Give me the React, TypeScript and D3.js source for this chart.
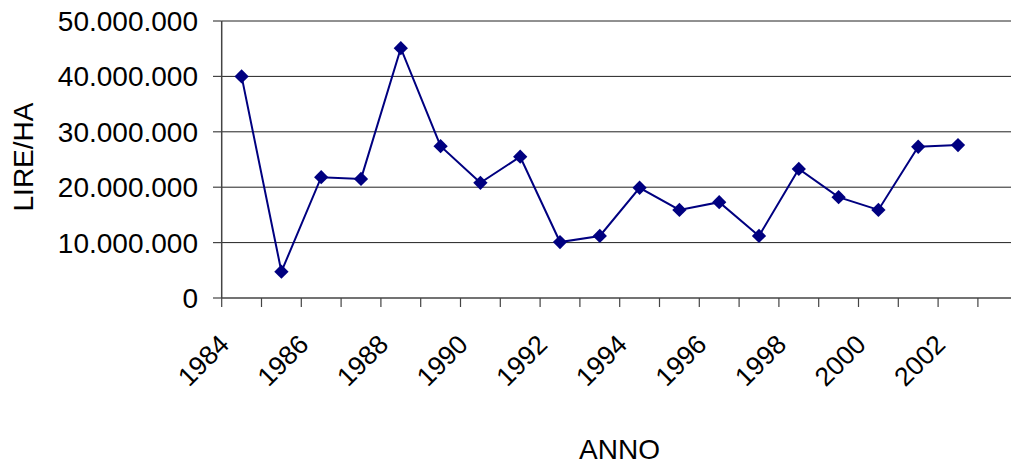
import React from "react";
import * as d3 from "d3";

const years = [
  "1984","1985","1986","1987","1988","1989","1990","1991","1992","1993",
  "1994","1995","1996","1997","1998","1999","2000","2001","2002","2003",
];
const values: (number | null)[] = [
  40000000, 4750000, 21800000, 21500000, 45100000, 27400000, 20800000, 25500000,
  10100000, 11200000, 19900000, 15900000, 17300000, 11200000, 23300000, 18200000,
  15900000, 27300000, 27600000, null,
];
const yTicks = [0, 10000000, 20000000, 30000000, 40000000, 50000000];
const xLabelYears = ["1984","1986","1988","1990","1992","1994","1996","1998","2000","2002"];

const W = 1011;
const H = 466;
const FONT = "'Liberation Sans', Arial, sans-serif";

export default function App() {
  const left = 221.7;
  const step = 39.8;
  const x = d3.scaleBand<string>().domain(years).range([left, left + step * years.length]).padding(0);
  const y = d3.scaleLinear().domain([0, 50000000]).range([298, 21]);
  const fmt = (v: number) => d3.format(",")(v).replace(/,/g, ".");
  const cx = (yr: string) => (x(yr) as number) + x.bandwidth() / 2;

  const pts = years
    .map((yr, i) => ({ yr, v: values[i] }))
    .filter((d) => d.v !== null) as { yr: string; v: number }[];
  const line = d3
    .line<{ yr: string; v: number }>()
    .x((d) => cx(d.yr))
    .y((d) => y(d.v));
  const diamond = d3.symbol().type(d3.symbolDiamond2).size(130)();
  const right = left + step * years.length;

  return (
    <svg
      width={W}
      height={H}
      style={{ position: "fixed", left: 0, top: 0, background: "#fff" }}
      fontFamily={FONT}
    >
      <rect width={W} height={H} fill="#fff" />
      {yTicks.map((t) => (
        <g key={t}>
          {t > 0 && (
            <line x1={left} x2={right} y1={y(t)} y2={y(t)} stroke="#222" strokeWidth={1} />
          )}
          <line x1={213} x2={left} y1={y(t)} y2={y(t)} stroke="#444" strokeWidth={1.2} />
          <text x={198} y={y(t)} dy="0.36em" textAnchor="end" fontSize={28} fill="#000">
            {fmt(t)}
          </text>
        </g>
      ))}
      <line x1={left} x2={left} y1={21} y2={298} stroke="#444" strokeWidth={1.5} />
      <line x1={left} x2={right} y1={298} y2={298} stroke="#444" strokeWidth={1.5} />
      {d3.range(years.length + 1).map((i) => (
        <line
          key={i}
          x1={left + i * step}
          x2={left + i * step}
          y1={298}
          y2={307}
          stroke="#444"
          strokeWidth={1.2}
        />
      ))}
      {xLabelYears.map((yr) => {
        const px = cx(yr) - 11;
        const py = 346;
        return (
          <text
            key={yr}
            x={px}
            y={py}
            textAnchor="end"
            fontSize={26.5}
            fill="#000"
            transform={`rotate(-45 ${px} ${py})`}
          >
            {yr}
          </text>
        );
      })}
      <path d={line(pts) ?? ""} fill="none" stroke="#000080" strokeWidth={2} />
      {pts.map((d) => (
        <path key={d.yr} d={diamond ?? ""} transform={`translate(${cx(d.yr)},${y(d.v)})`} fill="#000080" />
      ))}
      <text
        x={33}
        y={157}
        textAnchor="middle"
        fontSize={28}
        transform="rotate(-90 33 157)"
        fill="#000"
      >
        LIRE/HA
      </text>
      <text x={619.5} y={459} textAnchor="middle" fontSize={28} fill="#000">
        ANNO
      </text>
    </svg>
  );
}
